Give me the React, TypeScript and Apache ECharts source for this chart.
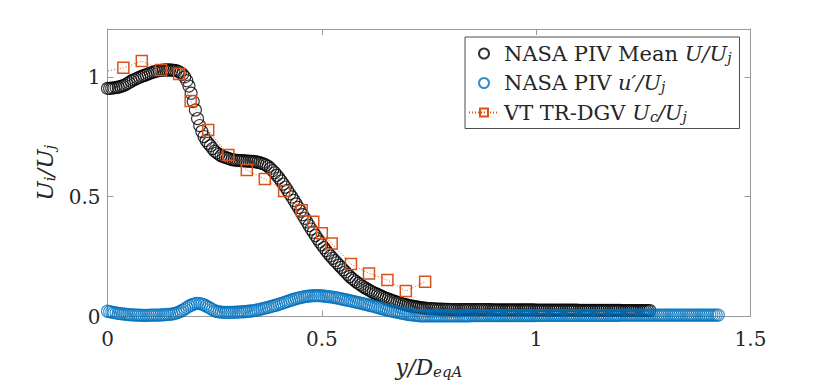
import React, { useEffect, useRef } from "react";
import * as echarts from "echarts";

// PIV grid spacing in y/D_eqA
const X_STEP = 0.005;

// NASA PIV Mean U/U_j (x = i * X_STEP), one row per 0.1 in x
const meanU = [
  0.952, 0.952, 0.953, 0.954, 0.956, 0.957, 0.96, 0.963, 0.966, 0.971, 0.976, 0.982, 0.987, 0.991, 0.995, 0.999, 1.002, 1.006, 1.009, 1.013,
  1.016, 1.019, 1.022, 1.024, 1.026, 1.027, 1.028, 1.029, 1.029, 1.029, 1.028, 1.027, 1.026, 1.023, 1.018, 1.011, 1.0, 0.984, 0.962, 0.932,
  0.897, 0.862, 0.826, 0.797, 0.772, 0.751, 0.735, 0.723, 0.713, 0.701, 0.69, 0.683, 0.677, 0.671, 0.667, 0.664, 0.661, 0.658, 0.655, 0.654,
  0.652, 0.652, 0.651, 0.651, 0.65, 0.649, 0.649, 0.648, 0.647, 0.646, 0.644, 0.642, 0.639, 0.636, 0.632, 0.626, 0.618, 0.609, 0.6, 0.589,
  0.578, 0.566, 0.553, 0.54, 0.526, 0.512, 0.499, 0.484, 0.47, 0.455, 0.44, 0.425, 0.41, 0.395, 0.38, 0.365, 0.352, 0.338, 0.324, 0.311,
  0.299, 0.287, 0.275, 0.264, 0.253, 0.243, 0.233, 0.224, 0.214, 0.205, 0.195, 0.186, 0.176, 0.167, 0.159, 0.152, 0.145, 0.138, 0.132, 0.126,
  0.12, 0.115, 0.11, 0.105, 0.1, 0.096, 0.092, 0.088, 0.084, 0.08, 0.076, 0.073, 0.069, 0.066, 0.063, 0.06, 0.058, 0.055, 0.052, 0.05,
  0.047, 0.045, 0.043, 0.042, 0.04, 0.039, 0.037, 0.036, 0.035, 0.034, 0.033, 0.033, 0.032, 0.032, 0.031, 0.031, 0.031, 0.03, 0.03, 0.03,
  0.029, 0.029, 0.029, 0.029, 0.029, 0.029, 0.029, 0.029, 0.029, 0.029, 0.029, 0.029, 0.029, 0.029, 0.029, 0.029, 0.029, 0.029, 0.029, 0.029,
  0.028, 0.028, 0.028, 0.028, 0.028, 0.028, 0.028, 0.028, 0.028, 0.028, 0.028, 0.028, 0.028, 0.028, 0.028, 0.028, 0.028, 0.028, 0.028, 0.028,
  0.027, 0.027, 0.027, 0.027, 0.027, 0.027, 0.027, 0.027, 0.027, 0.027, 0.027, 0.027, 0.027, 0.027, 0.027, 0.027, 0.027, 0.027, 0.027, 0.027,
  0.026, 0.026, 0.026, 0.026, 0.026, 0.026, 0.026, 0.026, 0.026, 0.026, 0.026, 0.026, 0.026, 0.026, 0.026, 0.026, 0.026, 0.026, 0.026, 0.026,
  0.025, 0.025, 0.025, 0.025, 0.025, 0.025, 0.025, 0.025, 0.025, 0.025, 0.025, 0.025, 0.025, 0.025,
];

// NASA PIV u'/U_j (x = i * X_STEP), one row per 0.1 in x
const rmsU = [
  0.022, 0.02, 0.018, 0.016, 0.015, 0.013, 0.012, 0.011, 0.01, 0.009, 0.008, 0.007, 0.007, 0.006, 0.006, 0.006, 0.005, 0.005, 0.005, 0.005,
  0.006, 0.006, 0.006, 0.006, 0.006, 0.007, 0.007, 0.008, 0.009, 0.009, 0.01, 0.012, 0.014, 0.017, 0.021, 0.026, 0.031, 0.037, 0.043, 0.047,
  0.051, 0.054, 0.055, 0.054, 0.052, 0.049, 0.044, 0.039, 0.034, 0.029, 0.024, 0.021, 0.019, 0.018, 0.017, 0.017, 0.017, 0.017, 0.017, 0.017,
  0.018, 0.018, 0.019, 0.019, 0.02, 0.021, 0.022, 0.023, 0.024, 0.026, 0.028, 0.03, 0.032, 0.034, 0.036, 0.038, 0.041, 0.043, 0.046, 0.048,
  0.052, 0.054, 0.057, 0.06, 0.063, 0.066, 0.069, 0.072, 0.075, 0.077, 0.079, 0.081, 0.083, 0.084, 0.085, 0.086, 0.087, 0.087, 0.087, 0.087,
  0.086, 0.085, 0.084, 0.083, 0.082, 0.081, 0.079, 0.078, 0.076, 0.074, 0.072, 0.07, 0.068, 0.066, 0.064, 0.062, 0.06, 0.058, 0.056, 0.054,
  0.052, 0.05, 0.047, 0.045, 0.043, 0.04, 0.038, 0.035, 0.033, 0.031, 0.028, 0.026, 0.024, 0.022, 0.02, 0.018, 0.016, 0.014, 0.013, 0.011,
  0.009, 0.008, 0.007, 0.006, 0.005, 0.004, 0.003, 0.003, 0.003, 0.003, 0.003, 0.003, 0.003, 0.003, 0.003, 0.003, 0.003, 0.003, 0.003, 0.003,
  0.003, 0.003, 0.003, 0.003, 0.003, 0.003, 0.003, 0.003, 0.003, 0.003, 0.004, 0.004, 0.004, 0.004, 0.004, 0.004, 0.004, 0.004, 0.004, 0.004,
  0.004, 0.004, 0.004, 0.004, 0.004, 0.004, 0.004, 0.004, 0.004, 0.004, 0.004, 0.004, 0.004, 0.004, 0.004, 0.004, 0.004, 0.004, 0.004, 0.004,
  0.005, 0.005, 0.005, 0.005, 0.005, 0.005, 0.005, 0.005, 0.005, 0.005, 0.005, 0.005, 0.005, 0.005, 0.005, 0.005, 0.005, 0.005, 0.005, 0.005,
  0.005, 0.005, 0.005, 0.005, 0.005, 0.005, 0.005, 0.005, 0.005, 0.005, 0.005, 0.005, 0.005, 0.005, 0.005, 0.005, 0.005, 0.005, 0.005, 0.005,
  0.006, 0.006, 0.006, 0.006, 0.006, 0.006, 0.006, 0.006, 0.006, 0.006, 0.006, 0.006, 0.006, 0.006, 0.006, 0.006, 0.006, 0.006, 0.006, 0.006,
  0.006, 0.006, 0.006, 0.006, 0.006, 0.006, 0.006, 0.006, 0.006, 0.006, 0.006, 0.006, 0.006, 0.006, 0.006, 0.006, 0.006, 0.006, 0.006, 0.006,
  0.006, 0.006, 0.006, 0.006, 0.006, 0.006,
];

// VT TR-DGV U_c/U_j
const dgvX = [-0.04, 0.037, 0.08, 0.125, 0.167, 0.194, 0.235, 0.282, 0.325, 0.367, 0.412, 0.453, 0.48, 0.5, 0.523, 0.568, 0.61, 0.653, 0.696, 0.741];
const dgvY = [1.01, 1.038, 1.066, 1.029, 1.012, 0.899, 0.778, 0.674, 0.611, 0.574, 0.524, 0.443, 0.396, 0.347, 0.305, 0.219, 0.18, 0.152, 0.106, 0.145];

const xTicks = [0, 0.5, 1, 1.5];
const yTicks = [0, 0.5, 1];

const NAME_MEAN = "NASA PIV Mean U/Uj";
const NAME_RMS = "NASA PIV u'/Uj";
const NAME_DGV = "VT TR-DGV Uc/Uj";

const SERIF = "DejaVu Serif";
const BLACK = "#000000";
const BLUE = "#0072BD";
const ORANGE = "#D95319";
const AXIS = "#9a9a9a";
const TEXT = "#262626";

const legendRich = {
  r: { fontFamily: SERIF, fontSize: 21, color: TEXT, height: 22 },
  i: { fontFamily: SERIF, fontSize: 21, fontStyle: "italic", color: TEXT, height: 22 },
  s: { fontFamily: SERIF, fontSize: 14, fontStyle: "italic", color: TEXT, height: 22, padding: [8, 0, 0, 0] },
};

const legendText: Record<string, string> = {
  [NAME_MEAN]: "{r|NASA PIV Mean }{i|U/U}{s|j}",
  [NAME_RMS]: "{r|NASA PIV }{i|u\u2032/U}{s|j}",
  [NAME_DGV]: "{r|VT TR-DGV }{i|U}{s|c}{i|/U}{s|j}",
};

export default function App() {
  const ref = useRef<HTMLDivElement>(null);
  useEffect(() => {
    if (!ref.current) return;
    const chart = echarts.init(ref.current, null, { renderer: "svg" });
    const tickFmt = (v: number) => String(v);
    const option: any = {
      animation: false,
      backgroundColor: "#ffffff",
      grid: { left: 107.5, top: 29, right: 79.5, bottom: 74.5, containLabel: false },
      legend: {
        orient: "vertical",
        left: 465,
        top: 37,
        padding: [6, 8, 5, 3],
        itemGap: 8,
        itemWidth: 30,
        itemHeight: 10,
        backgroundColor: "#ffffff",
        borderColor: "#4d4d4d",
        borderWidth: 1,
        borderRadius: 0,
        data: [NAME_MEAN, NAME_RMS, NAME_DGV],
        formatter: (name: string) => legendText[name] || name,
        textStyle: { fontFamily: SERIF, fontSize: 21, color: TEXT, rich: legendRich },
      },
      xAxis: [
        {
          type: "value",
          min: 0,
          max: 1.5,
          interval: 0.5,
          position: "bottom",
          name: "{i|y/D}{s|eqA}",
          nameLocation: "middle",
          nameGap: 38,
          nameTextStyle: {
            rich: {
              i: { fontFamily: SERIF, fontSize: 22, fontStyle: "italic", color: TEXT },
              s: { fontFamily: SERIF, fontSize: 15, fontStyle: "italic", color: TEXT, padding: [10, 0, 0, 0] },
            },
          },
          axisLine: { show: true, onZero: false, lineStyle: { color: AXIS, width: 1 } },
          axisTick: { show: true, inside: true, length: 6, lineStyle: { color: AXIS } },
          axisLabel: {
            fontFamily: SERIF,
            fontSize: 20,
            color: TEXT,
            margin: 12,
            formatter: (v: number) => (xTicks.includes(v) ? tickFmt(v) : ""),
          },
          splitLine: { show: false },
        },
        {
          type: "value",
          min: 0,
          max: 1.5,
          interval: 0.5,
          position: "top",
          axisLine: { show: true, onZero: false, lineStyle: { color: AXIS, width: 1 } },
          axisTick: { show: true, inside: true, length: 6, lineStyle: { color: AXIS } },
          axisLabel: { show: false },
          splitLine: { show: false },
        },
      ],
      yAxis: [
        {
          type: "value",
          min: 0,
          max: 1.2,
          interval: 0.5,
          position: "left",
          name: "{i|U}{s|i}{i|/U}{s|j}",
          nameLocation: "middle",
          nameGap: 50,
          nameRotate: 90,
          nameTextStyle: {
            rich: {
              i: { fontFamily: SERIF, fontSize: 23, fontStyle: "italic", color: TEXT },
              s: { fontFamily: SERIF, fontSize: 15, fontStyle: "italic", color: TEXT, padding: [10, 0, 0, 0] },
            },
          },
          axisLine: { show: true, onZero: false, lineStyle: { color: AXIS, width: 1 } },
          axisTick: { show: true, inside: true, length: 6, lineStyle: { color: AXIS } },
          axisLabel: {
            fontFamily: SERIF,
            fontSize: 20,
            color: TEXT,
            margin: 7,
            showMaxLabel: false,
            formatter: (v: number) => (yTicks.includes(v) ? tickFmt(v) : ""),
          },
          splitLine: { show: false },
        },
        {
          type: "value",
          min: 0,
          max: 1.2,
          interval: 0.5,
          position: "right",
          axisLine: { show: true, onZero: false, lineStyle: { color: AXIS, width: 1 } },
          axisTick: { show: true, inside: true, length: 6, lineStyle: { color: AXIS } },
          axisLabel: { show: false },
          splitLine: { show: false },
        },
      ],
      series: [
        {
          name: NAME_MEAN,
          type: "scatter",
          xAxisIndex: 0,
          yAxisIndex: 0,
          symbol: "circle",
          symbolSize: 12,
          data: meanU.map((v, i) => [i * X_STEP, v]),
          itemStyle: { color: "rgba(0,0,0,0)", borderColor: BLACK, borderWidth: 1.1 },
          emphasis: { disabled: true },
        },
        {
          name: NAME_RMS,
          type: "scatter",
          xAxisIndex: 0,
          yAxisIndex: 0,
          symbol: "circle",
          symbolSize: 12,
          data: rmsU.map((v, i) => [i * X_STEP, v]),
          itemStyle: { color: "rgba(0,0,0,0)", borderColor: BLUE, borderWidth: 1.1 },
          emphasis: { disabled: true },
        },
        {
          name: NAME_DGV,
          type: "line",
          xAxisIndex: 0,
          yAxisIndex: 0,
          symbol: "rect",
          symbolSize: 11,
          showAllSymbol: true,
          clip: true,
          data: dgvX.map((x, i) => [x, dgvY[i]]),
          lineStyle: { color: ORANGE, width: 1, type: [1, 2] },
          itemStyle: { color: "rgba(0,0,0,0)", borderColor: ORANGE, borderWidth: 1.5 },
          emphasis: { disabled: true },
        },
      ],
    };
    chart.setOption(option);
    return () => chart.dispose();
  }, []);
  return (
    <div
      ref={ref}
      style={{ position: "absolute", left: 0, top: 0, width: 830, height: 391 }}
    />
  );
}
